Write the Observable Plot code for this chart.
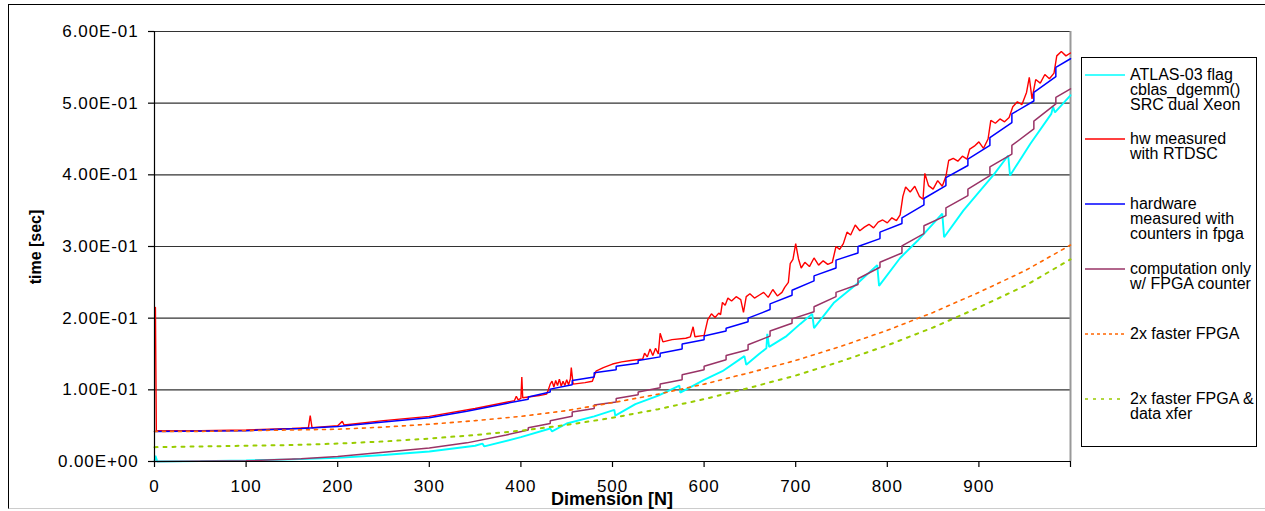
<!DOCTYPE html>
<html>
<head>
<meta charset="utf-8">
<script src="https://cdn.jsdelivr.net/npm/d3@7"></script>
<script src="https://cdn.jsdelivr.net/npm/@observablehq/plot@0.6"></script>
<style>
  html, body { margin: 0; padding: 0; background: #fff; overflow: hidden; }
  #wrap { position: relative; width: 1265px; height: 511px; font-family: "Liberation Sans", Arial, sans-serif; color: #000; }
  #frame { position: absolute; left: 8px; top: 4px; width: 1257px; height: 505px; border-top: 1.5px solid #000; border-left: 1.5px solid #000; border-bottom: 1px solid #ccc; box-sizing: border-box; }
  #chart { position: absolute; left: 0; top: 0; }
  #chart svg text { letter-spacing: 0.9px; }
  .ytitle { position: absolute; left: 36px; top: 247px; transform: translate(-50%, -50%) rotate(-90deg); font-weight: bold; font-size: 16px; white-space: nowrap; }
  .xtitle { position: absolute; left: 612px; top: 499px; transform: translate(-50%, -50%); font-weight: bold; font-size: 18px; white-space: nowrap; }
  #legend { position: absolute; left: 1081px; top: 57px; width: 176px; height: 390px; border: 1px solid #000; box-sizing: border-box; background: #fff; }
  .lg { position: absolute; left: 1130px; font-size: 16px; line-height: 15px; white-space: nowrap; }
  .ls { position: absolute; left: 1085px; }
</style>
</head>
<body>
<div id="wrap">
  <div id="frame"></div>
  <div id="chart"></div>
  <div class="ytitle">time [sec]</div>
  <div class="xtitle">Dimension [N]</div>
  <div id="legend"></div>
</div>
<script>
// ---- axis ticks ----
const xTicks = [0, 100, 200, 300, 400, 500, 600, 700, 800, 900, 1000];
const xTickLabels = ["0", "100", "200", "300", "400", "500", "600", "700", "800", "900", ""];
const yTicks = [0, 0.1, 0.2, 0.3, 0.4, 0.5, 0.6];
const yTickLabels = ["0.00E+00", "1.00E-01", "2.00E-01", "3.00E-01", "4.00E-01", "5.00E-01", "6.00E-01"];

// ---- series names ----
const seriesNames = [
  "ATLAS-03 flag cblas_dgemm() SRC dual Xeon",
  "hw measured with RTDSC",
  "hardware measured with counters in fpga",
  "computation only w/ FPGA counter",
  "2x faster FPGA",
  "2x faster FPGA & data xfer"
];

// ---- series values [N, time sec] ----
const atlas = [[0,0.000],[1,0.008],[3,0.000],[50,0.0005],[100,0.0015],[150,0.003],[200,0.005],[250,0.009],[300,0.014],
  [350,0.022],[358,0.025],[360,0.021],[400,0.034],[432,0.046],[434,0.042],[450,0.053],[480,0.063],[502,0.072],[503,0.064],
  [525,0.080],[550,0.092],[573,0.106],[574,0.096],[600,0.114],[620,0.126],[644,0.147],[646,0.135],[660,0.150],[668,0.158],
  [669,0.178],[671,0.160],[690,0.175],[705,0.192],[718,0.206],[720,0.186],[742,0.222],[767,0.248],[789,0.274],[791,0.245],
  [814,0.284],[833,0.308],[860,0.346],[862,0.313],[883,0.350],[900,0.376],[916,0.400],[932,0.427],[934,0.399],[956,0.443],
  [979,0.485],[981,0.495],[983,0.487],[1000,0.511]];

const hwRtdsc = [[1,0.215],[2,0.043],[50,0.043],[100,0.044],[150,0.046],[168,0.047],[170,0.064],[172,0.047],[200,0.050],
  [205,0.056],[207,0.051],[250,0.057],[300,0.063],[350,0.074],[393,0.085],[395,0.091],[397,0.086],[400,0.088],[401,0.118],
  [402,0.089],[420,0.092],[428,0.094],[430,0.100],[432,0.108],[434,0.112],[436,0.104],[438,0.113],[440,0.106],[442,0.115],
  [444,0.105],[446,0.112],[448,0.106],[450,0.114],[452,0.107],[454,0.115],[455,0.131],[457,0.108],[470,0.110],[478,0.112],
  [482,0.126],[490,0.131],[500,0.136],[510,0.139],[520,0.141],[533,0.143],[535,0.151],[538,0.146],[541,0.157],[544,0.148],
  [547,0.158],[550,0.150],[552,0.179],[555,0.167],[565,0.170],[580,0.172],[585,0.174],[588,0.188],[590,0.174],[600,0.176],
  [604,0.198],[608,0.206],[612,0.201],[616,0.207],[618,0.205],[620,0.222],[623,0.218],[626,0.228],[630,0.224],[635,0.230],
  [640,0.226],[643,0.208],[646,0.230],[650,0.234],[655,0.228],[660,0.232],[665,0.236],[670,0.229],[675,0.240],[680,0.231],
  [685,0.236],[688,0.243],[692,0.250],[694,0.276],[697,0.282],[700,0.304],[703,0.283],[706,0.270],[710,0.278],[715,0.272],
  [720,0.284],[725,0.274],[730,0.280],[735,0.275],[740,0.278],[744,0.300],[748,0.296],[752,0.304],[756,0.320],[760,0.316],
  [765,0.330],[770,0.322],[775,0.327],[780,0.331],[785,0.326],[790,0.334],[795,0.337],[800,0.333],[805,0.340],[810,0.336],
  [814,0.344],[817,0.370],[820,0.383],[825,0.376],[830,0.384],[835,0.370],[839,0.366],[841,0.402],[845,0.385],[850,0.380],
  [855,0.392],[860,0.384],[864,0.398],[867,0.420],[872,0.423],[877,0.419],[882,0.426],[887,0.422],[890,0.436],[895,0.440],
  [900,0.446],[905,0.437],[910,0.450],[913,0.476],[918,0.472],[923,0.478],[928,0.474],[933,0.480],[937,0.495],[942,0.502],
  [947,0.498],[952,0.515],[955,0.536],[958,0.506],[962,0.533],[967,0.528],[972,0.540],[977,0.534],[982,0.542],[985,0.566],
  [990,0.572],[995,0.566],[1000,0.570]];

const hwCounters = [[0,0.042],[100,0.043],[160,0.046],[200,0.049],[250,0.055],[300,0.061],[341,0.070],[384,0.081],
  [408,0.087],[408,0.090],[432,0.097],[432,0.101],[456,0.107],[456,0.113],[480,0.118],[480,0.124],[504,0.128],[504,0.133],
  [528,0.137],[528,0.141],[552,0.146],[552,0.151],[576,0.157],[576,0.164],[600,0.170],[600,0.175],[624,0.182],[624,0.186],
  [648,0.195],[648,0.200],[672,0.212],[672,0.220],[696,0.232],[696,0.239],[720,0.252],[720,0.259],[744,0.270],[744,0.281],
  [768,0.291],[768,0.300],[792,0.311],[792,0.320],[816,0.332],[816,0.340],[840,0.358],[840,0.367],[864,0.385],[864,0.396],
  [888,0.413],[888,0.422],[912,0.441],[912,0.452],[936,0.473],[936,0.485],[960,0.503],[960,0.515],[984,0.537],[984,0.550],
  [1000,0.562]];

const computeOnly = [[0,0.000],[100,0.001],[160,0.004],[200,0.007],[250,0.013],[300,0.019],[341,0.026],[384,0.037],
  [408,0.044],[408,0.047],[432,0.053],[432,0.057],[456,0.063],[456,0.069],[480,0.074],[480,0.079],[504,0.083],[504,0.088],
  [528,0.093],[528,0.097],[552,0.103],[552,0.108],[576,0.114],[576,0.121],[600,0.128],[600,0.133],[624,0.142],[624,0.148],
  [648,0.156],[648,0.163],[672,0.175],[672,0.182],[696,0.193],[696,0.199],[720,0.209],[720,0.216],[744,0.230],[744,0.236],
  [768,0.247],[768,0.255],[792,0.271],[792,0.278],[816,0.291],[816,0.301],[840,0.318],[840,0.329],[864,0.343],[864,0.354],
  [888,0.371],[888,0.380],[912,0.399],[912,0.411],[936,0.429],[936,0.441],[960,0.464],[960,0.475],[984,0.499],[984,0.508],
  [1000,0.520]];

const faster2x = [[0,0.042],[50,0.042],[100,0.043],[150,0.044],[200,0.045],[250,0.048],[300,0.052],[350,0.057],[400,0.063],
  [450,0.071],[500,0.082],[550,0.094],[600,0.108],[650,0.124],[700,0.141],[750,0.161],[800,0.183],[850,0.208],[900,0.236],
  [950,0.266],[1000,0.302]];

const faster2xXfer = [[0,0.020],[50,0.021],[100,0.022],[150,0.023],[200,0.025],[250,0.028],[300,0.032],[350,0.037],[400,0.043],
  [450,0.051],[500,0.061],[550,0.073],[600,0.087],[650,0.103],[700,0.120],[750,0.140],[800,0.162],[850,0.187],[900,0.215],
  [950,0.245],[1000,0.282]];

// ---- styling ----
const seriesStyles = [
  {data: atlas, stroke: "#00FFFF", strokeWidth: 1.9, dash: null, legendDash: null},
  {data: hwRtdsc, stroke: "#FF0000", strokeWidth: 1.4, dash: null, legendDash: null},
  {data: hwCounters, stroke: "#0000FF", strokeWidth: 1.5, dash: null, legendDash: null},
  {data: computeOnly, stroke: "#993366", strokeWidth: 1.5, dash: null, legendDash: null},
  {data: faster2x, stroke: "#FF6600", strokeWidth: 1.6, dash: "3,5", legendDash: "3,3"},
  {data: faster2xXfer, stroke: "#99CC00", strokeWidth: 2, dash: "3,6", legendDash: "3,5"}
];

const lineMarks = seriesStyles.map(s => Plot.line(s.data, {
  x: d => d[0], y: d => d[1], stroke: s.stroke, strokeWidth: s.strokeWidth,
  strokeDasharray: s.dash || undefined, strokeLinejoin: "miter", curve: "linear"
}));

const chart = Plot.plot({
  width: 1265,
  height: 511,
  marginLeft: 154,
  marginRight: 195,
  marginTop: 31,
  marginBottom: 50,
  style: {background: "transparent", fontFamily: "'Liberation Sans', Arial, sans-serif", color: "#000", overflow: "visible"},
  x: {domain: [0, 1000]},
  y: {domain: [0, 0.6]},
  marks: [
    Plot.ruleY(yTicks.slice(1), {stroke: "#333", strokeWidth: 1.2}),
    Plot.ruleX([1000], {stroke: "#999", strokeWidth: 2}),
    ...lineMarks,
    Plot.ruleX([0], {stroke: "#000", strokeWidth: 1.2}),
    Plot.ruleY([0], {stroke: "#000", strokeWidth: 1.2}),
    Plot.axisY({ticks: yTicks, tickFormat: d => yTickLabels[yTicks.findIndex(t => Math.abs(t - d) < 1e-9)],
      tickSize: 6, tickPadding: 10, fontSize: 17, label: null, stroke: "#000", strokeWidth: 1.2}),
    Plot.axisX({ticks: xTicks, tickFormat: d => xTickLabels[xTicks.indexOf(d)],
      tickSize: 6, tickPadding: 12, fontSize: 17, label: null, stroke: "#000", strokeWidth: 1.2})
  ]
});
document.getElementById("chart").appendChild(chart);

// ---- legend ----
const legendLines = [
  ["ATLAS-03 flag", "cblas_dgemm()", "SRC dual Xeon"],
  ["hw measured", "with RTDSC"],
  ["hardware", "measured with", "counters in fpga"],
  ["computation only", "w/ FPGA counter"],
  ["2x faster FPGA"],
  ["2x faster FPGA &", "data xfer"]
];
const legendY = [75, 139, 204, 269, 334, 399];
const wrap = document.getElementById("wrap");
legendLines.forEach((lines, i) => {
  const s = seriesStyles[i];
  const y = legendY[i];
  const svg = d3.create("svg").attr("class", "ls").attr("width", 40).attr("height", 6)
    .style("top", (y - 3) + "px");
  svg.append("line").attr("x1", 0).attr("x2", 40).attr("y1", 3).attr("y2", 3)
    .attr("stroke", s.stroke).attr("stroke-width", i >= 4 ? 1.6 : 1.5)
    .attr("stroke-dasharray", s.legendDash);
  wrap.appendChild(svg.node());
  const div = document.createElement("div");
  div.className = "lg";
  div.style.top = (y - 8) + "px";
  div.innerHTML = lines.join("<br>");
  wrap.appendChild(div);
});
</script>
</body>
</html>
